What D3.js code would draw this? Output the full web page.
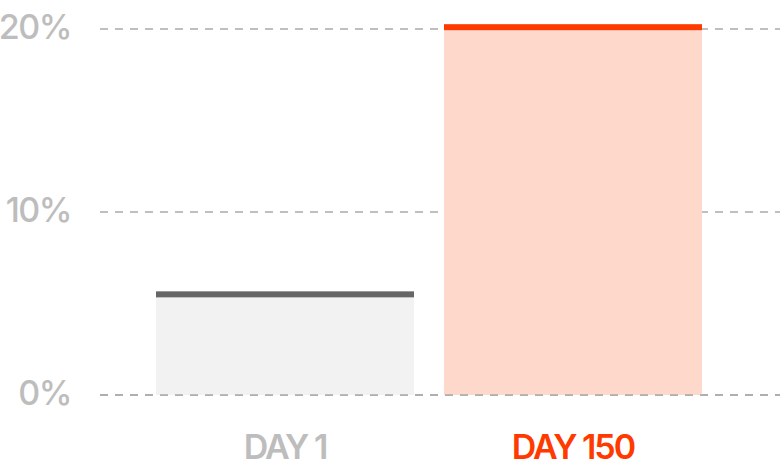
<!DOCTYPE html>
<html>
<head>
<meta charset="utf-8">
<script src="https://cdn.jsdelivr.net/npm/d3@7"></script>
<style>
  body { margin: 0; background: #fff; }
  text { font-family: Inter, "Liberation Sans", sans-serif; }
</style>
</head>
<body>
<div id="chart"></div>
<script>
var categories = ['DAY 1', 'DAY 150'];
var values = [5.5, 20.1];
var yTicks = [0, 10, 20];
var tickLabels = ['0%', '10%', '20%'];

var fills = ['#f2f2f2', '#fdd8cb'];
var caps = ['#666666', '#ff3a00'];
var labelColors = ['#bdbdbd', '#ff3a00'];

var width = 780, height = 468;

var svg = d3.select('#chart').append('svg')
    .attr('width', width)
    .attr('height', height);

var y = d3.scaleLinear()
    .domain([0, 20])
    .range([395, 29]);

var x = d3.scaleBand()
    .domain(categories)
    .range([141, 717])
    .paddingInner(30 / 288)
    .paddingOuter(15 / 288);

// gridlines
svg.selectAll('line.grid')
    .data(yTicks)
    .enter()
    .append('line')
        .attr('class', 'grid')
        .attr('x1', 100)
        .attr('x2', width)
        .attr('y1', function(d) { return y(d); })
        .attr('y2', function(d) { return y(d); })
        .attr('stroke', '#ababab')
        .attr('stroke-width', 1.5)
        .attr('stroke-dasharray', '8,7');

// y labels
svg.selectAll('text.ylab')
    .data(yTicks)
    .enter()
    .append('text')
        .attr('class', 'ylab')
        .attr('x', 71)
        .attr('y', function(d) { return y(d) + 10; })
        .attr('text-anchor', 'end')
        .attr('fill', '#bdbdbd')
        .attr('font-size', 34)
        .attr('font-weight', 500)
        .attr('letter-spacing', -1.5)
        .text(function(d, i) { return tickLabels[i]; });

// bars
svg.selectAll('rect.bar')
    .data(values)
    .enter()
    .append('rect')
        .attr('class', 'bar')
        .attr('x', function(d, i) { return x(categories[i]); })
        .attr('y', function(d) { return y(d); })
        .attr('width', x.bandwidth())
        .attr('height', function(d) { return y(0) - y(d); })
        .attr('fill', function(d, i) { return fills[i]; });

// bar caps
svg.selectAll('rect.cap')
    .data(values)
    .enter()
    .append('rect')
        .attr('class', 'cap')
        .attr('x', function(d, i) { return x(categories[i]); })
        .attr('y', function(d) { return y(d) - 3; })
        .attr('width', x.bandwidth())
        .attr('height', 6)
        .attr('fill', function(d, i) { return caps[i]; });

// redraw baseline over bars
svg.append('line')
    .attr('x1', 100)
    .attr('x2', width)
    .attr('y1', y(0))
    .attr('y2', y(0))
    .attr('stroke', '#ababab')
    .attr('stroke-width', 1.5)
    .attr('stroke-dasharray', '8,7');

// x labels
svg.selectAll('text.xlab')
    .data(categories)
    .enter()
    .append('text')
        .attr('class', 'xlab')
        .attr('x', function(d) { return x(d) + x.bandwidth() / 2; })
        .attr('y', 459)
        .attr('text-anchor', 'middle')
        .attr('fill', function(d, i) { return labelColors[i]; })
        .attr('font-size', 34)
        .attr('font-weight', 600)
        .attr('letter-spacing', -2)
        .text(function(d) { return d; });
</script>
</body>
</html>
